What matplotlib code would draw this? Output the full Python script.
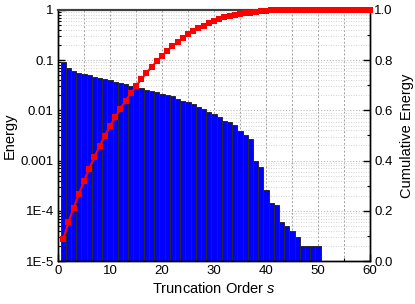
import matplotlib
matplotlib.use("Agg")
import matplotlib.pyplot as plt
import numpy as np
from matplotlib.ticker import FixedLocator, MultipleLocator, LogLocator, NullFormatter, FixedFormatter

plt.rcParams['font.family'] = ['Liberation Sans', 'DejaVu Sans']
plt.rcParams['mathtext.fontset'] = 'custom'
plt.rcParams['mathtext.it'] = 'Liberation Sans:italic'
plt.rcParams['mathtext.rm'] = 'Liberation Sans'

# Data
orders = list(range(1, 51))
energy = [0.0908, 0.0709, 0.0601, 0.0548, 0.0531, 0.0507, 0.0469, 0.0448, 0.0417, 0.0398,
          0.0373, 0.0356, 0.0340, 0.0310, 0.0283, 0.0275, 0.0255, 0.0240, 0.0229, 0.0209,
          0.0203, 0.0194, 0.0169, 0.0156, 0.0145, 0.0134, 0.0117, 0.0108, 0.0094, 0.0083,
          0.0073, 0.0062, 0.0059, 0.0051, 0.0038, 0.0033, 0.0027, 0.00100, 0.00076, 0.00026,
          0.000141, 0.000131, 0.0000599, 0.0000498, 0.0000402, 0.0000301, 0.0000196, 0.0000196,
          0.0000196, 0.0000196]
cum_orders = list(range(1, 61))
cumulative = [0.086, 0.154, 0.212, 0.266, 0.318, 0.368, 0.414, 0.458, 0.499, 0.537,
              0.572, 0.607, 0.639, 0.668, 0.697, 0.724, 0.749, 0.773, 0.796, 0.817,
              0.838, 0.855, 0.873, 0.888, 0.903, 0.916, 0.928, 0.938, 0.948, 0.957,
              0.965, 0.972, 0.977, 0.981, 0.984, 0.987, 0.990, 0.994, 0.996, 0.998,
              0.999, 0.999, 0.999, 1.0, 1.0, 1.0, 1.0, 1.0, 1.0, 1.0,
              1.0, 1.0, 1.0, 1.0, 1.0, 1.0, 1.0, 1.0, 1.0, 1.0]
left_ticks = [1e-5, 1e-4, 1e-3, 1e-2, 1e-1, 1]
left_labels = ['1E-5', '1E-4', '0.001', '0.01', '0.1', '1']
right_ticks = [0.0, 0.2, 0.4, 0.6, 0.8, 1.0]
right_labels = ['0.0', '0.2', '0.4', '0.6', '0.8', '1.0']

fig = plt.figure(figsize=(4.15, 3.04), dpi=100)
ax = fig.add_axes([58/415, 43/304, 312/415, 251/304])

ax.bar(orders, energy, width=1.0, color='#0000ff', edgecolor='#2a2a2a', linewidth=0.7, zorder=2)
ax.set_yscale('log')
ax.set_ylim(1e-5, 1)
ax.set_xlim(0, 60)
ax.set_axisbelow(True)

ax.yaxis.set_major_locator(FixedLocator(left_ticks))
ax.yaxis.set_major_formatter(FixedFormatter(left_labels))
ax.yaxis.set_minor_locator(LogLocator(base=10, subs=np.arange(2, 10)))
ax.yaxis.set_minor_formatter(NullFormatter())
ax.xaxis.set_major_locator(MultipleLocator(10))
ax.xaxis.set_minor_locator(MultipleLocator(5))

ax.grid(True, which='major', axis='y', color='#b8b8b8', linestyle=(0, (1.2, 1.8)), linewidth=0.7)
ax.grid(True, which='minor', axis='y', color='#cccccc', linestyle=(0, (1.2, 1.8)), linewidth=0.6)
ax.grid(True, which='both', axis='x', color='#a0a0a0', linestyle=(0, (2, 2)), linewidth=0.7)

ax.tick_params(axis='both', which='major', direction='in', length=5, width=1, labelsize=9.5, pad=3)
ax.tick_params(axis='both', which='minor', direction='in', length=2.5, width=0.8)
ax.tick_params(axis='x', which='both', top=False)
ax.set_xlabel(r'Truncation Order $\mathit{s}$', fontsize=10.5, labelpad=3)
ax.set_ylabel('Energy', fontsize=10.5, labelpad=3)

for sp in ax.spines.values():
    sp.set_linewidth(1.0)
    sp.set_color('black')
ax.spines['top'].set_color('#404040')
ax.spines['top'].set_linewidth(1.5)

ax2 = ax.twinx()
ax2.plot(cum_orders, cumulative, color='#ff0000', linewidth=1.5, marker='s', markersize=4.2,
         markeredgewidth=0, clip_on=False, zorder=3)
ax2.set_ylim(0, 1)
ax2.yaxis.set_major_locator(FixedLocator(right_ticks))
ax2.yaxis.set_major_formatter(FixedFormatter(right_labels))
ax2.yaxis.set_minor_locator(MultipleLocator(0.1))
ax2.tick_params(axis='y', which='major', direction='in', length=5, width=1, labelsize=9.5, pad=3)
ax2.tick_params(axis='y', which='minor', direction='in', length=2.5, width=0.8)
ax2.set_ylabel('Cumulative Energy', fontsize=10.5, labelpad=5)
for sp in ax2.spines.values():
    sp.set_linewidth(1.0)
ax2.spines['top'].set_color('#404040')
ax2.spines['top'].set_linewidth(1.5)

fig.savefig('out.png', dpi=100)
